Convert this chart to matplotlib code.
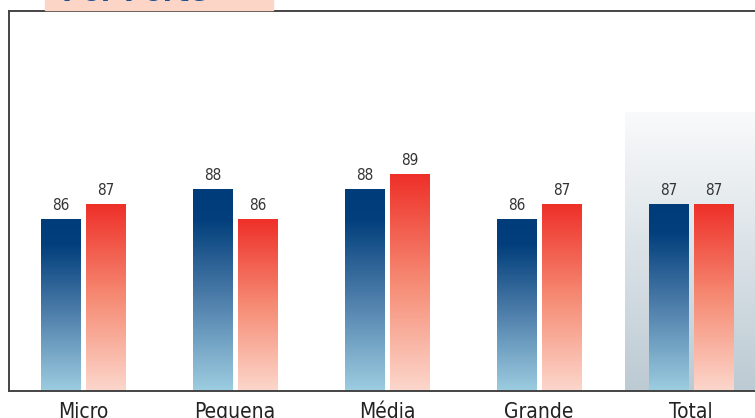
import matplotlib.pyplot as plt
import numpy as np
from matplotlib.colors import LinearSegmentedColormap
from matplotlib.patches import Rectangle

plt.rcParams['font.family'] = ['DejaVu Sans']
plt.rcParams['font.stretch'] = 'condensed'

categories = ['Micro', 'Pequena', 'Média', 'Grande', 'Total']
serie_azul = [86, 88, 88, 86, 87]
serie_vermelha = [87, 86, 89, 87, 87]

# gradients run from the base of the bar (0) to its top (1)
cmap_azul = LinearSegmentedColormap.from_list(
    'azul', [(0, '#9dcde0'), (0.45, '#4f7fab'), (0.85, '#023f7c'), (1, '#003c79')])
cmap_verm = LinearSegmentedColormap.from_list(
    'verm', [(0, '#fcd7cc'), (0.5, '#f68b74'), (1, '#ee3029')])
cmap_fundo = LinearSegmentedColormap.from_list('fundo', [(0, '#bccad3'), (1, '#f9fafb')])

fig = plt.figure(figsize=(7.55, 4.18), dpi=100)
ax = fig.add_axes([9/755, 27/418, 746/755, 380/418])

x = np.arange(len(categories))
w = 0.257
off = 0.148
y0 = 74.5
grad = np.linspace(0, 1, 256).reshape(-1, 1)

# shaded backdrop behind the Total group
ax.imshow(grad, extent=[3.566, 4.5, y0, 93.2], origin='lower', aspect='auto',
          cmap=cmap_fundo, zorder=0)

for xi, va, vv in zip(x, serie_azul, serie_vermelha):
    for xc, v, cm in ((xi - off, va, cmap_azul), (xi + off, vv, cmap_verm)):
        ax.imshow(grad, extent=[xc - w/2, xc + w/2, y0, v], origin='lower',
                  aspect='auto', cmap=cm, zorder=2)
        ax.text(xc, v + 0.45, str(v), ha='center', va='bottom', fontsize=11,
                color='#333333', zorder=3)

ax.set_xlim(-0.487, 4.421)
ax.set_ylim(y0, 100)
ax.set_xticks(x)
ax.set_xticklabels(categories, fontsize=15, color='#222222')
ax.tick_params(axis='x', length=0, pad=8)
ax.set_yticks([])
ax.spines['right'].set_visible(False)
for s in ('left', 'top', 'bottom'):
    ax.spines[s].set_color('#444444')
    ax.spines[s].set_linewidth(1.4)

# title tab at the top, mostly cut off by the figure edge
fig.patches.append(Rectangle((45/755, 1 - 10/418), 228/755, 10/418,
                             transform=fig.transFigure, color='#fdd5c6', zorder=0))
fig.text(62/755, 1 - 1/418, 'Por Porte', fontsize=22, fontweight='bold',
         color='#1e4f8e', va='baseline', ha='left')

fig.savefig('out.png', dpi=100)
